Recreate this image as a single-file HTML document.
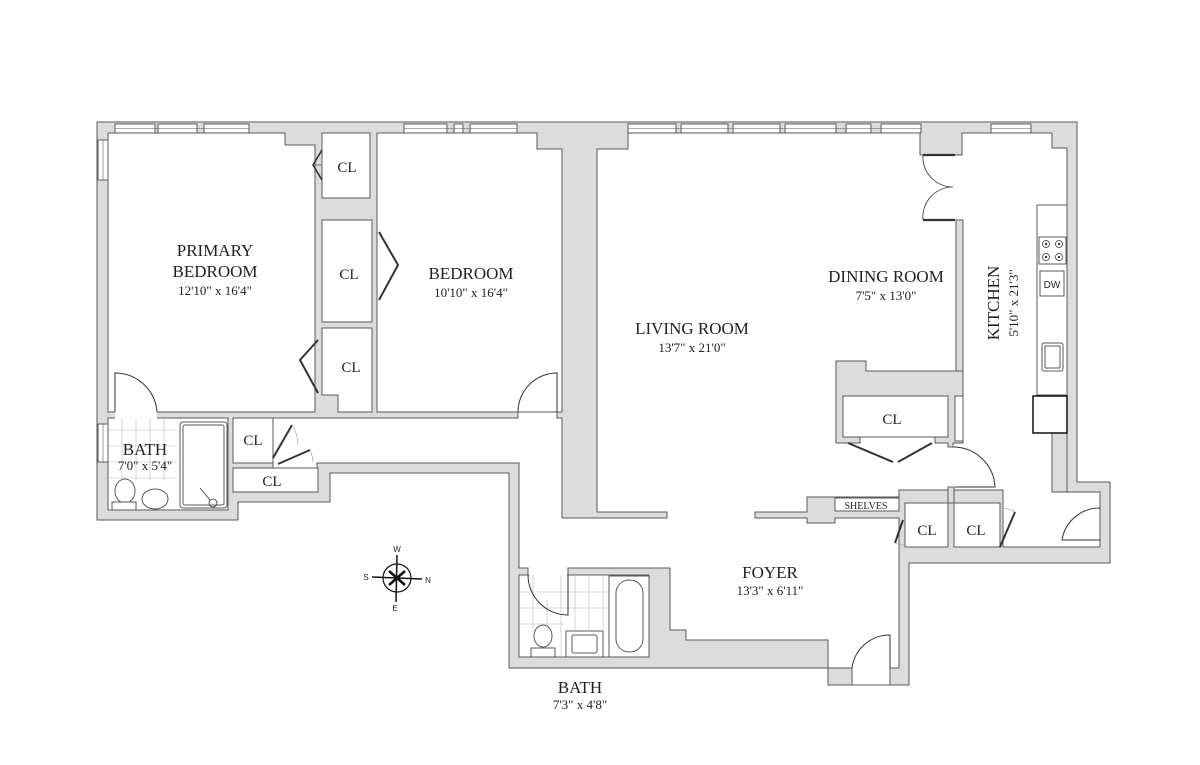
<!DOCTYPE html>
<html><head><meta charset="utf-8"><style>
html,body{margin:0;padding:0;background:#fff;}
svg{display:block;}
text{font-family:"Liberation Serif",serif;fill:#222;}
</style></head><body>
<svg width="1200" height="765" viewBox="0 0 1200 765" xmlns="http://www.w3.org/2000/svg">
<rect width="1200" height="765" fill="#fff"/>
<g stroke="#5a5a5a" stroke-width="1" stroke-linejoin="miter">
<!-- outer gray -->
<polygon fill="#dcdcdc" points="97,122 1077,122 1077,482 1110,482 1110,563 909,563 909,685 828,685 828,668 509,668 509,473 330,473 330,502 238,502 238,520 97,520"/>
<!-- public area -->
<polygon fill="#fff" points="597,149 628,149 628,133 920,133 920,155 962,155 962,133 1052,133 1052,148 1067,148 1067,492 1100,492 1100,547 1003,547 1003,490 899,490 899,497 807,497 807,512 755,512 755,518 807,518 807,523 835,523 835,518 899,518 899,668 890,668 890,685 852,685 852,668 828,668 828,640 686,640 686,630 670,630 670,568 568,568 568,575 528,575 528,568 519,568 519,463 317,463 317,468 273,468 273,418 518,418 518,412 557,412 557,418 562,418 562,518 667,518 667,512 597,512"/>
<!-- primary bedroom -->
<polygon fill="#fff" points="108,133 285,133 285,145 315,145 315,412 108,412"/>
<!-- bedroom -->
<polygon fill="#fff" points="377,133 537,133 537,149 562,149 562,412 377,412"/>
<!-- closets column -->
<rect x="322" y="133" width="48" height="65" fill="#fff"/>
<rect x="322" y="220" width="50" height="102" fill="#fff"/>
<polygon fill="#fff" points="322,328 372,328 372,412 338,412 338,395 322,395"/>
<!-- primary bath -->
<rect x="108" y="418" width="120" height="92" fill="#fff"/>
<rect x="115" y="410" width="42" height="9" fill="#fff" stroke="none"/>
<!-- hall closets -->
<rect x="233" y="418" width="40" height="45" fill="#fff"/>
<rect x="233" y="468" width="85" height="24" fill="#fff"/>
<!-- bath2 -->
<rect x="519" y="575" width="130" height="82" fill="#fff"/>
<rect x="529" y="567" width="38" height="9" fill="#fff" stroke="none"/>
<!-- CL boxes near foyer -->
<rect x="905" y="503" width="43" height="44" fill="#fff"/>
<rect x="954" y="503" width="46" height="44" fill="#fff"/>
<rect x="948" y="487" width="6" height="16" fill="#dcdcdc"/>
<!-- dining wall + CL block -->
<rect x="956" y="220" width="7" height="151" fill="#dcdcdc"/>
<polygon fill="#dcdcdc" points="836,361 866,361 866,371 963,371 963,443 953,443 953,447 948,447 948,443 935,443 935,437 860,437 860,443 836,443"/>
<rect x="843" y="396" width="105" height="41" fill="#fff"/>
<rect x="955" y="396" width="8" height="45" fill="#fff"/>
<!-- shelves -->
<rect x="835" y="498" width="64" height="13" fill="#fff"/>
<!-- kitchen -->
<rect x="1037" y="205" width="30" height="190" fill="#fff"/>
<rect x="1052" y="433" width="15" height="59" fill="#dcdcdc"/>
<rect x="1039" y="237" width="27" height="27" fill="#fff"/>
<rect x="1040" y="271" width="24" height="25" fill="#fff"/>
<rect x="1042" y="343" width="21" height="28" rx="2" fill="#fff"/>
<rect x="1045" y="346" width="15" height="22" fill="none"/>
<rect x="1033" y="396" width="34" height="37" fill="#fff" stroke="#111" stroke-width="1.5"/>
<!-- tub primary -->
<rect x="180" y="422" width="47" height="86" rx="3" fill="#fff"/>
<rect x="183" y="425" width="41" height="80" rx="2" fill="none"/>
<!-- bath2 fixtures -->
<rect x="568" y="575" width="1" height="1" fill="none" stroke="none"/>
<rect x="609" y="576" width="40" height="81" fill="#fff"/>
<rect x="616" y="580" width="27" height="72" rx="13" fill="#fff"/>
<rect x="566" y="631" width="37" height="26" fill="#fff"/>
<rect x="572" y="635" width="25" height="18" rx="2" fill="#fff"/>
<ellipse cx="543" cy="636" rx="9" ry="11" fill="#fff"/>
<rect x="531" y="648" width="24" height="9" fill="#fff"/>
<!-- primary bath fixtures -->
<ellipse cx="125" cy="491" rx="10" ry="12" fill="#fff"/>
<rect x="112" y="502" width="24" height="8" fill="#fff"/>
<ellipse cx="155" cy="499" rx="13" ry="10" fill="#fff"/>
</g>
<!-- tiles -->
<g stroke="#bbb" stroke-width="0.6">
<line x1="108" y1="430" x2="177" y2="430"/><line x1="108" y1="446" x2="177" y2="446"/><line x1="108" y1="462" x2="177" y2="462"/><line x1="108" y1="478" x2="177" y2="478"/>
<line x1="122" y1="418" x2="122" y2="480"/><line x1="136" y1="418" x2="136" y2="480"/><line x1="150" y1="418" x2="150" y2="480"/><line x1="164" y1="418" x2="164" y2="480"/>
<line x1="519" y1="592" x2="608" y2="592"/><line x1="519" y1="608" x2="608" y2="608"/><line x1="519" y1="624" x2="565" y2="624"/>
<line x1="533" y1="575" x2="533" y2="628"/><line x1="547" y1="600" x2="547" y2="628"/><line x1="561" y1="575" x2="561" y2="657"/><line x1="575" y1="575" x2="575" y2="631"/><line x1="589" y1="575" x2="589" y2="631"/><line x1="603" y1="575" x2="603" y2="631"/>
</g>
<!-- windows -->
<g fill="#fff" stroke="#5a5a5a" stroke-width="1">
<rect x="115" y="124" width="40" height="9"/><rect x="158" y="124" width="39" height="9"/><rect x="204" y="124" width="45" height="9"/>
<rect x="404" y="124" width="43" height="9"/><rect x="454" y="124" width="9" height="9"/><rect x="470" y="124" width="47" height="9"/>
<rect x="628" y="124" width="48" height="9"/><rect x="681" y="124" width="47" height="9"/><rect x="733" y="124" width="47" height="9"/><rect x="785" y="124" width="51" height="9"/><rect x="846" y="124" width="25" height="9"/><rect x="881" y="124" width="40" height="9"/>
<rect x="991" y="124" width="40" height="9"/>
<rect x="98" y="140" width="10" height="40"/><rect x="98" y="424" width="10" height="38"/>
</g>
<g stroke="#5a5a5a" stroke-width="0.6">
<line x1="115" y1="128.5" x2="249" y2="128.5"/><line x1="404" y1="128.5" x2="517" y2="128.5"/><line x1="628" y1="128.5" x2="921" y2="128.5"/><line x1="991" y1="128.5" x2="1031" y2="128.5"/>
<line x1="103" y1="140" x2="103" y2="180"/><line x1="103" y1="424" x2="103" y2="462"/>
</g>
<!-- doors -->
<g fill="none" stroke="#333" stroke-width="1">
<path d="M115,412 L115,373 A42,42 0 0 1 157,412"/>
<path d="M557,412 L557,373 A39,39 0 0 0 518,412"/>
<path d="M923,155 L955,155 M923,220 L955,220" stroke-width="2.2"/>
<path d="M923,155 A30,30 0 0 0 953,187 A30,30 0 0 0 923,220" stroke-width="0.8"/>
<path d="M953,447 A42,42 0 0 1 995,487 L955,487"/>
<path d="M1100,540 L1062,540 A38,38 0 0 1 1100,508"/>
<path d="M890,668 L890,635 A38,38 0 0 0 852,668"/>
<path d="M528,575 A40,40 0 0 0 568,615 L568,575"/>
<!-- bifold closet doors -->
<path d="M322,150 L313,165 L322,180" stroke-width="1.6"/>
<path d="M322,165 L315,165" stroke-width="0.6"/>
<path d="M379,232 L398,265 L379,300" stroke-width="2"/>
<path d="M318,340 L300,360 L318,393" stroke-width="2"/>
<path d="M273,458 L292,425" stroke-width="2"/>
<path d="M278,464 L310,450" stroke-width="2"/>
<path d="M848,443 L893,462 M932,443 L898,462" stroke-width="2"/>
<path d="M903,520 L895,543" stroke-width="2"/>
<path d="M1000,547 L1015,512" stroke-width="2"/>
</g>
<g stroke="#999" stroke-width="0.6" fill="none">
<path d="M292,425 A35,35 0 0 1 298,445"/><path d="M310,450 A35,35 0 0 1 313,462"/>
<path d="M895,543 A22,22 0 0 0 905,545"/><path d="M1015,512 A22,22 0 0 0 1003,508"/>
</g>
<!-- stove & misc -->
<g fill="none" stroke="#333" stroke-width="0.8">
<circle cx="1046" cy="244" r="3.5"/><circle cx="1059" cy="244" r="3.5"/><circle cx="1046" cy="257" r="3.5"/><circle cx="1059" cy="257" r="3.5"/>
<circle cx="213" cy="503" r="4"/><line x1="210" y1="500" x2="200" y2="488"/>
</g>
<g fill="#333"><circle cx="1046" cy="244" r="1.2"/><circle cx="1059" cy="244" r="1.2"/><circle cx="1046" cy="257" r="1.2"/><circle cx="1059" cy="257" r="1.2"/></g>
<!-- compass -->
<g stroke="#111" fill="none">
<circle cx="397" cy="578" r="14" stroke-width="1.2"/>
<line x1="372" y1="577" x2="422" y2="579" stroke-width="1.5"/>
<line x1="397" y1="555" x2="396" y2="602" stroke-width="1.5"/>
<path d="M389,571 L405,585 M405,571 L389,585" stroke-width="2.5"/>
</g>
<g font-family="Liberation Sans,sans-serif" font-size="8" text-anchor="middle">
<text x="397" y="552" style="font-family:'Liberation Sans',sans-serif">W</text>
<text x="395" y="611" style="font-family:'Liberation Sans',sans-serif">E</text>
<text x="366" y="580" style="font-family:'Liberation Sans',sans-serif">S</text>
<text x="428" y="583" style="font-family:'Liberation Sans',sans-serif">N</text>
</g>
<!-- labels -->
<g text-anchor="middle">
<text x="215" y="256" font-size="17">PRIMARY</text>
<text x="215" y="277" font-size="17">BEDROOM</text>
<text x="215" y="295" font-size="13">12'10" x 16'4"</text>
<text x="471" y="279" font-size="17">BEDROOM</text>
<text x="471" y="297" font-size="13">10'10" x 16'4"</text>
<text x="692" y="334" font-size="17">LIVING ROOM</text>
<text x="692" y="352" font-size="13">13'7" x 21'0"</text>
<text x="886" y="282" font-size="17">DINING ROOM</text>
<text x="886" y="300" font-size="13">7'5" x 13'0"</text>
<text x="770" y="578" font-size="17">FOYER</text>
<text x="770" y="595" font-size="13">13'3" x 6'11"</text>
<text x="145" y="455" font-size="17">BATH</text>
<text x="145" y="470" font-size="13">7'0" x 5'4"</text>
<text x="580" y="693" font-size="17">BATH</text>
<text x="580" y="709" font-size="13">7'3" x 4'8"</text>
<text transform="translate(999,303) rotate(-90)" font-size="17">KITCHEN</text>
<text transform="translate(1018,303) rotate(-90)" font-size="13">5'10" x 21'3"</text>
<text x="347" y="172" font-size="15">CL</text>
<text x="349" y="279" font-size="15">CL</text>
<text x="351" y="372" font-size="15">CL</text>
<text x="253" y="445" font-size="15">CL</text>
<text x="272" y="486" font-size="15">CL</text>
<text x="892" y="424" font-size="15">CL</text>
<text x="927" y="535" font-size="15">CL</text>
<text x="976" y="535" font-size="15">CL</text>
<text x="866" y="509" font-size="10">SHELVES</text>
<text x="1052" y="288" font-size="10" style="font-family:'Liberation Sans',sans-serif">DW</text>
</g>
</svg>
</body></html>
